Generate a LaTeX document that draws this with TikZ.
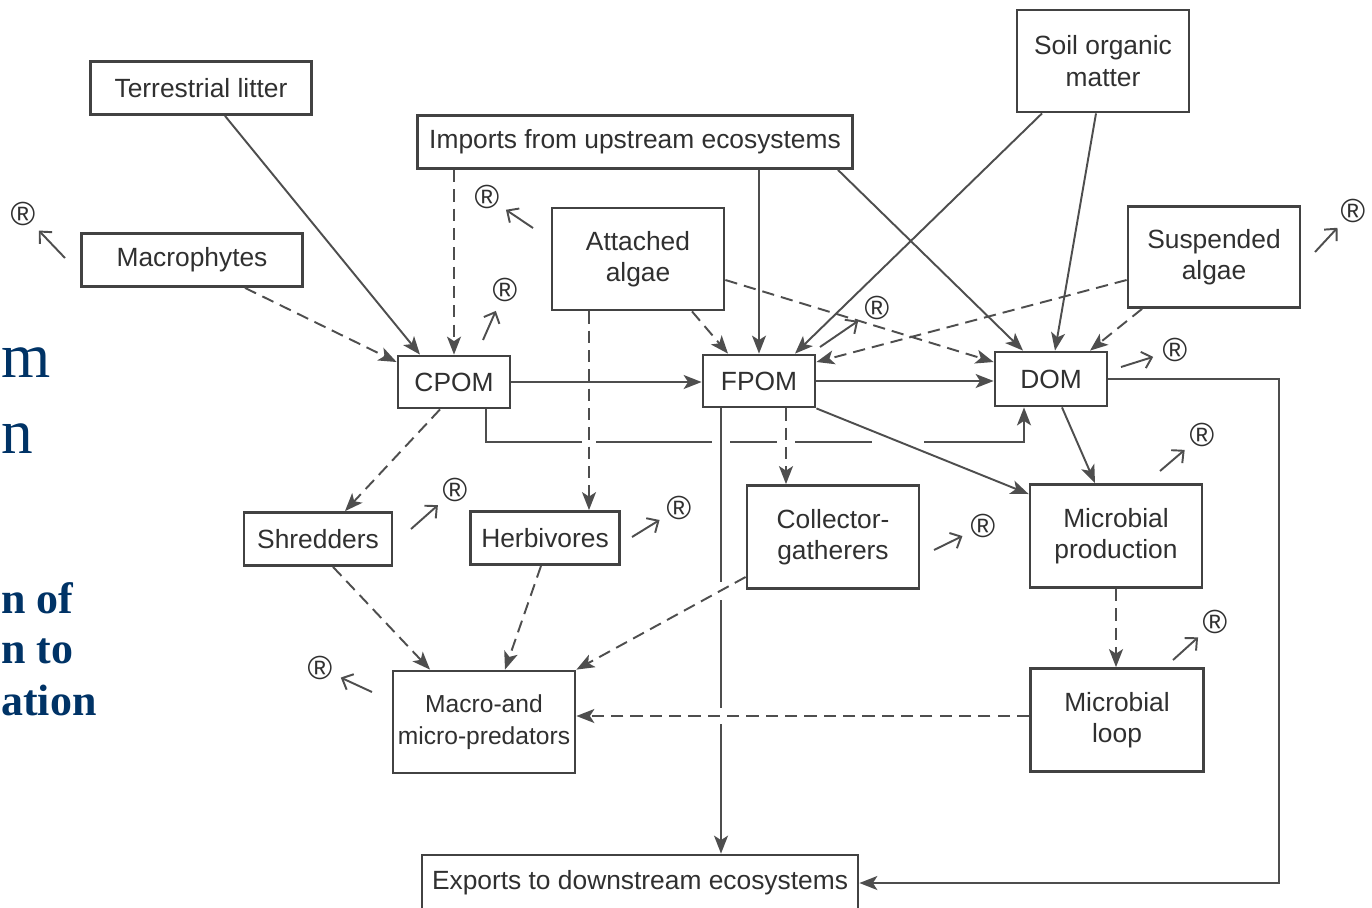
\documentclass[tikz,border=0pt]{standalone}
\usepackage{fontspec}
\setmainfont{Liberation Sans}
\newfontfamily\slideserif{Liberation Serif}
\usepackage{tikz}
\usetikzlibrary{arrows.meta}
\definecolor{boxgrey}{RGB}{66,66,66}
\definecolor{linegrey}{RGB}{78,78,78}
\definecolor{textgrey}{RGB}{48,48,48}
\definecolor{slideblue}{RGB}{0,51,102}
\newcommand{\boxfont}{\fontsize{15}{18}\selectfont}

\begin{document}
\begin{tikzpicture}[x=0.02cm, y=-0.02cm,
    fbox/.style={rectangle, draw=boxgrey, line width=1.6pt, fill=white,
        font=\boxfont, text=textgrey, align=center, inner sep=1pt},
    flow/.style={-{Stealth[length=3.6mm, width=2.8mm, inset=0.9mm]},
        line width=1.1pt, linegrey},
    dflow/.style={flow, dash pattern=on 7pt off 4pt},
    resp/.style={-{Straight Barb[length=1.8mm, width=3.4mm]},
        line width=1.1pt, linegrey},
    rmark/.style={circle, inner sep=0pt, minimum size=0.9cm,
        font=\fontsize{19}{19}\selectfont, text=textgrey},
    linegap/.style={fill=white, draw=none},
    slidetxt/.style={text=slideblue, inner sep=0pt, anchor=base west}
]
    \path[use as bounding box, clip] (0,0) rectangle (1372,907);

    % leftover slide text
    \node[slidetxt, font=\slideserif\fontsize{36}{43}\selectfont] (sm) at (1,377) {m};
    \node[slidetxt, font=\slideserif\fontsize{36}{43}\selectfont] (sn) at (1,453) {n};
    \node[slidetxt, font=\slideserif\bfseries\fontsize{25}{29}\selectfont] (sof) at (1,613) {n of};
    \node[slidetxt, font=\slideserif\bfseries\fontsize{25}{29}\selectfont] (sto) at (1,663) {n to};
    \node[slidetxt, font=\slideserif\bfseries\fontsize{25}{29}\selectfont] (sat) at (1,715) {ation};

    % boxes
    \node[fbox, minimum width=4.42cm, minimum height=1.06cm] (litter) at (201,88) {Terrestrial litter};
    \node[fbox, minimum width=4.42cm, minimum height=1.06cm] (macro) at (192,260) {Macrophytes};
    \node[fbox, minimum width=8.7cm, minimum height=1.06cm] (imports) at (635,142) {Imports from upstream ecosystems};
    \node[fbox, minimum width=3.44cm, minimum height=2.04cm] (soil) at (1103,61) {Soil organic\\matter};
    \node[fbox, minimum width=3.44cm, minimum height=2.04cm] (attalg) at (638,259) {Attached\\algae};
    \node[fbox, minimum width=3.44cm, minimum height=2.02cm] (susalg) at (1214,257) {Suspended\\algae};
    \node[fbox, minimum width=2.24cm, minimum height=1.04cm] (cpom) at (454,382) {CPOM};
    \node[fbox, minimum width=2.24cm, minimum height=1.04cm] (fpom) at (759,381) {FPOM};
    \node[fbox, minimum width=2.24cm, minimum height=1.08cm] (dom) at (1051,379) {DOM};
    \node[fbox, minimum width=2.96cm, minimum height=1.06cm] (shred) at (318,539) {Shredders};
    \node[fbox, minimum width=2.98cm, minimum height=1.06cm] (herb) at (545,538) {Herbivores};
    \node[fbox, minimum width=3.44cm, minimum height=2.06cm] (collect) at (833,537) {Collector-\\gatherers};
    \node[fbox, minimum width=3.44cm, minimum height=2.06cm] (mprod) at (1116,536) {Microbial\\production};
    \node[fbox, minimum width=3.64cm, minimum height=2.04cm, font=\fontsize{14}{18}\selectfont] (pred) at (484,722) {Macro-and\\micro-predators};
    \node[fbox, minimum width=3.46cm, minimum height=2.06cm] (mloop) at (1117,720) {Microbial\\loop};
    \node[fbox, minimum width=8.72cm, minimum height=1.12cm] (exports) at (640,883) {Exports to downstream ecosystems};

    % CPOM to DOM, passing under the other lines
    \draw[flow] ([xshift=0.64cm]cpom.south) |- ([xshift=-0.54cm, yshift=-0.7cm]dom.south) -- ([xshift=-0.54cm]dom.south);
    \path[linegap] (582,437) rectangle (596,445);
    \path[linegap] (712,437) rectangle (730,445);
    \path[linegap] (777,437) rectangle (795,445);
    \path[linegap] (872,437) rectangle (924,445);

    \draw[dflow] ([xshift=-0.98cm]attalg.south) -- ([xshift=-0.98cm]attalg.south |- herb.north);
    \draw[flow] ([xshift=-0.76cm]fpom.south) -- ([xshift=-0.76cm]fpom.south |- exports.north);
    \draw[dflow] ([xshift=0.54cm]fpom.south) -- ([xshift=0.54cm]fpom.south |- collect.north);
    \draw[flow] (fpom.south east) -- ([yshift=0.84cm]mprod.west);
    \path[linegap] (717,582) rectangle (725,600);
    \path[linegap] (717,708) rectangle (725,724);

    \draw[dflow] ([yshift=-0.8cm]collect.west) -- (pred.north east);
    \draw[dflow] ([yshift=0.08cm]mloop.west) -- ([yshift=0.08cm]mloop.west -| pred.east);

    % inputs
    \draw[flow] ([xshift=0.48cm]litter.south) -- ([xshift=-0.68cm]cpom.north);
    \draw[dflow] ([xshift=1.06cm]macro.south) -- ([yshift=0.4cm]cpom.west);
    \draw[dflow] (imports.south -| cpom.north) -- (cpom.north);
    \draw[flow] (imports.south -| fpom.north) -- (fpom.north);
    \draw[flow] ([xshift=4.06cm]imports.south) -- ([xshift=-0.56cm]dom.north);
    \draw[flow] ([xshift=-1.22cm]soil.south) -- ([xshift=0.72cm]fpom.north);
    \draw[flow] ([xshift=-0.14cm]soil.south) -- ([xshift=0.08cm]dom.north);
    \draw[dflow] ([xshift=1.08cm]attalg.south) -- ([xshift=-0.62cm]fpom.north);
    \draw[dflow] ([yshift=-0.42cm]attalg.east) -- ([yshift=0.34cm]dom.west);
    \draw[dflow] ([yshift=-0.46cm]susalg.west) -- ([yshift=0.38cm]fpom.east);
    \draw[dflow] ([xshift=-1.44cm]susalg.south) -- ([xshift=0.78cm]dom.north);

    % organic matter pools
    \draw[flow] (cpom.east) -- (cpom.east -| fpom.west);
    \draw[flow] (fpom.east) -- (fpom.east -| dom.west);
    \draw[flow] ([xshift=0.22cm]dom.south) -- ([xshift=-0.42cm]mprod.north);
    \draw[flow] (dom.east) -- ++(3.42cm,0) |- (exports.east);

    % consumers
    \draw[dflow] ([xshift=-0.28cm]cpom.south) -- ([xshift=0.54cm]shred.north);
    \draw[dflow] ([xshift=0.3cm]shred.south) -- ([xshift=-1.08cm]pred.north);
    \draw[dflow] ([xshift=-0.08cm]herb.south) -- ([xshift=0.42cm]pred.north);
    \draw[dflow] (mprod.south) -- (mprod.south |- mloop.north);

    % respiration
    \coordinate (rs1) at (65,258);   \node[rmark] (r1) at (23,214) {®};   \draw[resp] (rs1) -- (r1);
    \coordinate (rs2) at (533,228);  \node[rmark] (r2) at (487,197) {®};  \draw[resp] (rs2) -- (r2);
    \coordinate (rs3) at (483,340);  \node[rmark] (r3) at (505,290) {®};  \draw[resp] (rs3) -- (r3);
    \coordinate (rs4) at (820,347);  \node[rmark] (r4) at (877,308) {®};  \draw[resp] (rs4) -- (r4);
    \coordinate (rs5) at (1315,252); \node[rmark] (r5) at (1353,211) {®}; \draw[resp] (rs5) -- (r5);
    \coordinate (rs6) at (1121,367); \node[rmark] (r6) at (1175,350) {®}; \draw[resp] (rs6) -- (r6);
    \coordinate (rs7) at (1160,471); \node[rmark] (r7) at (1202,435) {®}; \draw[resp] (rs7) -- (r7);
    \coordinate (rs8) at (411,529);  \node[rmark] (r8) at (455,490) {®};  \draw[resp] (rs8) -- (r8);
    \coordinate (rs9) at (632,537);  \node[rmark] (r9) at (679,508) {®};  \draw[resp] (rs9) -- (r9);
    \coordinate (rs10) at (934,550); \node[rmark] (r10) at (983,526) {®}; \draw[resp] (rs10) -- (r10);
    \coordinate (rs11) at (1173,660); \node[rmark] (r11) at (1215,622) {®}; \draw[resp] (rs11) -- (r11);
    \coordinate (rs12) at (372,692); \node[rmark] (r12) at (320,668) {®}; \draw[resp] (rs12) -- (r12);
\end{tikzpicture}
\end{document}
